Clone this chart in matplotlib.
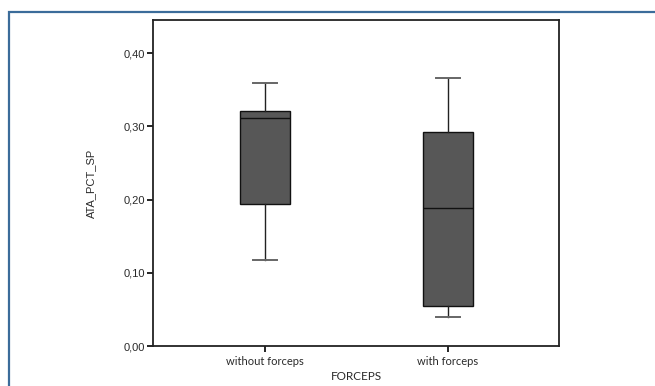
import matplotlib
matplotlib.use("Agg")
import matplotlib.pyplot as plt
from matplotlib.patches import Rectangle
from matplotlib.ticker import FuncFormatter

# five-number summaries for each group
groups = ["without forceps", "with forceps"]
whisker_low = [0.117, 0.040]
q1 = [0.194, 0.055]
median = [0.311, 0.188]
q3 = [0.321, 0.293]
whisker_high = [0.360, 0.366]

y_ticks = [0.0, 0.1, 0.2, 0.3, 0.4]

stats = []
for i, name in enumerate(groups):
    stats.append({
        "label": name,
        "whislo": whisker_low[i],
        "q1": q1[i],
        "med": median[i],
        "q3": q3[i],
        "whishi": whisker_high[i],
        "fliers": [],
    })

fig = plt.figure(figsize=(6.55, 3.86), dpi=100)

# blue panel border around the chart
fig.patches.append(Rectangle((8.5 / 655, -0.1), 1.2, (386 - 11.5) / 386 + 0.1,
                             transform=fig.transFigure, fill=False,
                             edgecolor="#3b6c9a", linewidth=1.6))

ax = fig.add_axes([153.3 / 655, 40 / 386, 406 / 655, 326 / 386])

ax.bxp(stats, positions=[1, 2], widths=0.273, patch_artist=True,
       showfliers=False,
       boxprops=dict(facecolor="#575757", edgecolor="#111111", linewidth=1.0),
       medianprops=dict(color="#111111", linewidth=1.0),
       whiskerprops=dict(color="#222222", linewidth=1.0),
       capprops=dict(color="#666666", linewidth=1.4),
       capwidths=0.13)

ax.set_xlim(0.391, 2.609)
ax.set_ylim(0, 0.4455)
ax.set_yticks(y_ticks)
ax.yaxis.set_major_formatter(FuncFormatter(lambda v, p: f"{v:.2f}".replace(".", ",")))
ax.set_xticks([1, 2])
ax.set_xticklabels(groups, family="Lato", fontsize=8, color="#2a2a2a")

for s in ax.spines.values():
    s.set_linewidth(1.3)
    s.set_color("#222222")

ax.tick_params(axis="y", direction="out", length=4, width=1.2, labelsize=8,
               labelcolor="#2a2a2a", pad=2)
ax.tick_params(axis="x", direction="out", length=4, width=1.2, pad=3)
for lab in ax.get_yticklabels():
    lab.set_family("Liberation Sans")

ax.set_ylabel("ATA_PCT_SP", family="Liberation Sans", fontsize=8,
              color="#2a2a2a", labelpad=20)
ax.set_xlabel("FORCEPS", family="Lato", fontsize=8.5, color="#2a2a2a", labelpad=3)

fig.savefig("out.png", dpi=100)
